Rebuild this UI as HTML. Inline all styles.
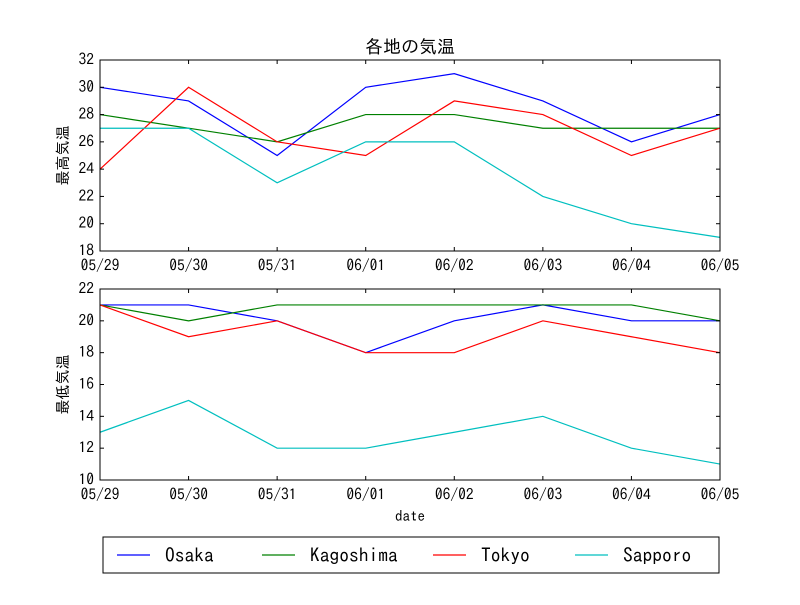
<!DOCTYPE html>
<html><head><meta charset="utf-8"><style>
body{margin:0;background:#fff;}
svg text{font-family:"IPAGothic","Liberation Sans","Noto Sans CJK JP",sans-serif;fill:#000;}
</style></head><body>
<svg id="chart" width="800" height="600" xmlns="http://www.w3.org/2000/svg">
<rect width="800" height="600" fill="#fff"/>
<text x="410" y="53" font-size="18" text-anchor="middle">各地の気温</text>
</svg>
<script>
const dates=["05/29","05/30","05/31","06/01","06/02","06/03","06/04","06/05"];
const seriesNames=["Osaka","Kagoshima","Tokyo","Sapporo"];
const colors=["#0000ff","#008000","#ff0000","#00bfbf"];
const highOsaka=[30,29,25,30,31,29,26,28];
const highKagoshima=[28,27,26,28,28,27,27,27];
const highTokyo=[24,30,26,25,29,28,25,27];
const highSapporo=[27,27,23,26,26,22,20,19];
const lowOsaka=[21,21,20,18,20,21,20,20];
const lowKagoshima=[21,20,21,21,21,21,21,20];
const lowTokyo=[21,19,20,18,18,20,19,18];
const lowSapporo=[13,15,12,12,13,14,12,11];
const highTicks=[18,20,22,24,26,28,30,32];
const lowTicks=[10,12,14,16,18,20,22];
const NS="http://www.w3.org/2000/svg";
const svg=document.getElementById('chart');
function mk(t,a,p){const e=document.createElementNS(NS,t);for(const k in a)e.setAttribute(k,a[k]);(p||svg).appendChild(e);return e;}
const X0=100,X1=720;
function xs(i){return X0+(X1-X0)*i/(dates.length-1);}
function panel(top,bot,ymin,ymax,ticks,data,ylabel,name){
  const ys=v=>bot-(v-ymin)/(ymax-ymin)*(bot-top);
  const g=mk('g',{});
  
  
  data.forEach((d,s)=>{
    const pts=d.map((v,i)=>xs(i)+','+ys(v)).join(' ');
    const l=mk('polyline',{points:pts,fill:'none',stroke:colors[s],'stroke-width':1.2},g);
    
    
  });
  mk('rect',{x:X0,y:top,width:X1-X0,height:bot-top,fill:'none',stroke:'#000','stroke-width':1},g);
  ticks.forEach(t=>{
    const y=ys(t);
    mk('line',{x1:X0,x2:X0+4,y1:y,y2:y,stroke:'#000'},g);
    mk('line',{x1:X1,x2:X1-4,y1:y,y2:y,stroke:'#000'},g);
    const tx=mk('text',{x:X0-6,y:y+5,'font-size':15.5,'text-anchor':'end'},g);tx.textContent=t;
    
    
  });
  dates.forEach((d,i)=>{
    const x=xs(i);
    mk('line',{x1:x,x2:x,y1:bot,y2:bot-4,stroke:'#000'},g);
    mk('line',{x1:x,x2:x,y1:top,y2:top+4,stroke:'#000'},g);
    const tx=mk('text',{x:x,y:bot+20,'font-size':15.5,'text-anchor':'middle'},g);tx.textContent=d;
    
    
  });
  const yl=mk('text',{x:0,y:0,'font-size':15,'text-anchor':'middle',transform:`translate(68,${(top+bot)/2}) rotate(-90)`},g);
  yl.textContent=ylabel;
  
  
}
panel(60,251,18,32,highTicks,[highOsaka,highKagoshima,highTokyo,highSapporo],'最高気温','high-temp-panel');
panel(289,480,10,22,lowTicks,[lowOsaka,lowKagoshima,lowTokyo,lowSapporo],'最低気温','low-temp-panel');
const xl=mk('text',{x:410,y:521,'font-size':15,'text-anchor':'middle'});xl.textContent='date';


const lg=mk('g',{});


mk('rect',{x:103,y:537,width:616,height:36,fill:'#fff',stroke:'#000'},lg);
const lx=[117,262,433,575];
seriesNames.forEach((n,s)=>{
  const e=mk('g',{},lg);
  
  
  mk('line',{x1:lx[s],x2:lx[s]+33,y1:555,y2:555,stroke:colors[s],'stroke-width':1.2},e);
  const t=mk('text',{x:lx[s]+48,y:562,'font-size':19.5},e);t.textContent=n;
});
</script>
</body></html>
